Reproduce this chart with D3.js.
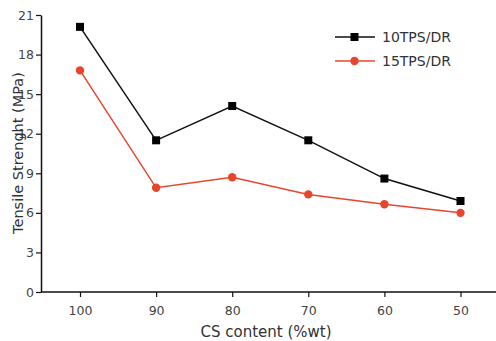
<!DOCTYPE html>
<html>
<head>
<meta charset="utf-8">
<script src="https://cdn.jsdelivr.net/npm/d3@7"></script>
<style>
  body { margin: 0; background: #fff; }
  svg { display: block; font-family: "DejaVu Sans", Verdana, sans-serif; }
</style>
</head>
<body>
<svg id="chart" width="496" height="341"></svg>
<script>
// data
const csContent = [100, 90, 80, 70, 60, 50];
const tps10 = [20.1, 11.5, 14.1, 11.5, 8.6, 6.9];
const tps15 = [16.8, 7.9, 8.7, 7.4, 6.65, 6.0];
const yTicks = [0, 3, 6, 9, 12, 15, 18, 21];
const seriesNames = ['10TPS/DR', '15TPS/DR'];

const svg = d3.select('#chart');

const x = d3.scaleLinear().domain([100, 50]).range([80, 460.5]);
const y = d3.scaleLinear().domain([0, 21]).range([292, 15]);

// y axis
const yAxis = svg.append('g')
  .attr('transform', 'translate(41,0)')
  .call(d3.axisLeft(y).tickValues(yTicks).tickSize(5).tickSizeOuter(0).tickPadding(2));
yAxis.select('.domain').attr('stroke', '#111').attr('stroke-width', 1.5);
yAxis.selectAll('.tick line').attr('stroke', '#111').attr('stroke-width', 1.2);
yAxis.selectAll('.tick text').attr('fill', '#444').attr('font-size', 12.5)
  .attr('font-family', '"DejaVu Sans", Verdana, sans-serif');

// x axis
const xAxis = svg.append('g')
  .attr('transform', 'translate(0,292)')
  .call(d3.axisBottom(x).tickValues(csContent).tickSize(5).tickSizeOuter(0).tickPadding(9));
xAxis.select('.domain').remove();
xAxis.append('line')
  .attr('x1', 41).attr('x2', 496).attr('y1', 0).attr('y2', 0)
  .attr('stroke', '#111').attr('stroke-width', 1.5);
xAxis.selectAll('.tick line').attr('stroke', '#111').attr('stroke-width', 1.2);
xAxis.selectAll('.tick text').attr('fill', '#444').attr('font-size', 12.5)
  .attr('font-family', '"DejaVu Sans", Verdana, sans-serif');

// axis titles
svg.append('text')
  .attr('x', 266).attr('y', 337)
  .attr('text-anchor', 'middle')
  .attr('font-size', 15).attr('fill', '#333')
  .text('CS content (%wt)');

svg.append('text')
  .attr('transform', 'translate(23,153) rotate(-90)')
  .attr('text-anchor', 'middle')
  .attr('font-size', 14.5).attr('fill', '#333')
  .text('Tensile Strenght (MPa)');

const line = d3.line().x((d, i) => x(csContent[i])).y(d => y(d));

// 15TPS/DR (red, circles)
svg.append('path').datum(tps15)
  .attr('d', line).attr('fill', 'none')
  .attr('stroke', '#e8452c').attr('stroke-width', 1.5);
svg.selectAll('circle.p15').data(tps15).enter().append('circle')
  .attr('class', 'p15')
  .attr('cx', (d, i) => x(csContent[i])).attr('cy', d => y(d))
  .attr('r', 4.2).attr('fill', '#e8452c');

// 10TPS/DR (black, squares)
svg.append('path').datum(tps10)
  .attr('d', line).attr('fill', 'none')
  .attr('stroke', '#111').attr('stroke-width', 1.5);
svg.selectAll('rect.p10').data(tps10).enter().append('rect')
  .attr('class', 'p10')
  .attr('x', (d, i) => x(csContent[i]) - 4).attr('y', d => y(d) - 4)
  .attr('width', 8).attr('height', 8).attr('fill', '#000');

// legend
const legend = svg.append('g');
const legendColors = ['#111', '#e8452c'];
seriesNames.forEach((name, i) => {
  const ly = 37 + i * 24;
  legend.append('line')
    .attr('x1', 335).attr('x2', 375).attr('y1', ly).attr('y2', ly)
    .attr('stroke', legendColors[i]).attr('stroke-width', 1.5);
  if (i === 0) {
    legend.append('rect')
      .attr('x', 350.5).attr('y', ly - 4).attr('width', 8).attr('height', 8)
      .attr('fill', '#000');
  } else {
    legend.append('circle')
      .attr('cx', 354.5).attr('cy', ly).attr('r', 4.2).attr('fill', legendColors[i]);
  }
  legend.append('text')
    .attr('x', 382).attr('y', ly + 5)
    .attr('font-size', 14).attr('fill', '#333')
    .text(name);
});
</script>
</body>
</html>
